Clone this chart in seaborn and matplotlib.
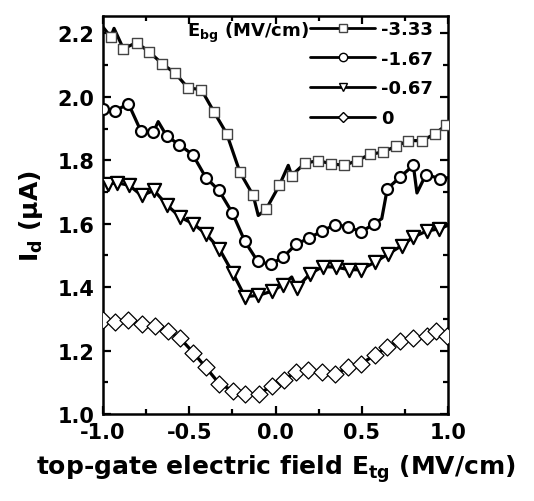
import matplotlib
matplotlib.use("Agg")
import matplotlib.pyplot as plt
import matplotlib.lines as mlines
import seaborn as sns
import pandas as pd

# E_bg = -3.33 MV/cm (squares)
sq_x = [-0.955, -0.882, -0.805, -0.732, -0.658, -0.581, -0.507, -0.430, -0.357, -0.283,
        -0.206, -0.129, -0.055, 0.022, 0.094, 0.171, 0.248, 0.322, 0.399, 0.472,
        0.550, 0.623, 0.697, 0.770, 0.848, 0.925, 0.990]
sq_y = [2.189, 2.152, 2.171, 2.142, 2.105, 2.074, 2.028, 2.023, 1.953, 1.884,
        1.762, 1.689, 1.645, 1.721, 1.752, 1.791, 1.799, 1.789, 1.784, 1.799,
        1.819, 1.826, 1.844, 1.862, 1.862, 1.883, 1.912]
sq_line_x = [-1.0, -0.936, -0.100, 0.074, 1.0]
sq_line_y = [2.220, 2.216, 1.626, 1.784, 1.920]

# E_bg = -1.67 MV/cm (circles)
ci_x = [-1.0, -0.930, -0.853, -0.781, -0.708, -0.631, -0.558, -0.480, -0.403, -0.328,
        -0.250, -0.177, -0.103, -0.028, 0.045, 0.119, 0.194, 0.271, 0.345, 0.422,
        0.496, 0.573, 0.648, 0.722, 0.799, 0.872, 0.954]
ci_y = [1.963, 1.955, 1.979, 1.893, 1.889, 1.877, 1.849, 1.818, 1.745, 1.705,
        1.634, 1.544, 1.481, 1.472, 1.495, 1.535, 1.555, 1.577, 1.597, 1.590,
        1.574, 1.600, 1.710, 1.747, 1.784, 1.755, 1.742]
ci_line_x = [-0.680, 0.616, 0.820, 1.0]
ci_line_y = [1.922, 1.616, 1.697, 1.745]

# E_bg = -0.67 MV/cm (triangles)
tr_x = [-0.969, -0.917, -0.848, -0.776, -0.704, -0.627, -0.554, -0.477, -0.403, -0.326,
        -0.248, -0.177, -0.100, -0.022, 0.045, 0.123, 0.200, 0.274, 0.351, 0.428,
        0.494, 0.577, 0.654, 0.732, 0.799, 0.877, 0.950]
tr_y = [1.726, 1.729, 1.721, 1.689, 1.705, 1.658, 1.621, 1.600, 1.568, 1.521,
        1.445, 1.370, 1.374, 1.387, 1.408, 1.398, 1.442, 1.465, 1.463, 1.455,
        1.455, 1.479, 1.505, 1.531, 1.558, 1.577, 1.584]
tr_line_x = [-1.0, 0.094, 1.0]
tr_line_y = [1.735, 1.432, 1.595]

# E_bg = 0 MV/cm (diamonds)
di_x = [-1.0, -0.930, -0.853, -0.775, -0.698, -0.626, -0.553, -0.476, -0.404, -0.325,
        -0.248, -0.177, -0.096, -0.022, 0.049, 0.119, 0.190, 0.268, 0.345, 0.422,
        0.494, 0.577, 0.648, 0.722, 0.799, 0.877, 0.930, 0.994]
di_y = [1.295, 1.291, 1.295, 1.284, 1.277, 1.261, 1.239, 1.193, 1.147, 1.095,
        1.074, 1.063, 1.063, 1.089, 1.108, 1.133, 1.138, 1.134, 1.126, 1.147,
        1.158, 1.186, 1.211, 1.231, 1.239, 1.245, 1.263, 1.245]
di_line_x = [1.0]
di_line_y = [1.250]

labels = ["-3.33", "-1.67", "-0.67", "0"]

sns.set_theme(style="ticks")
plt.rcParams["font.family"] = ["DejaVu Sans"]
plt.rcParams["font.weight"] = "bold"
plt.rcParams["mathtext.fontset"] = "dejavusans"
plt.rcParams["mathtext.default"] = "bf"
plt.rcParams["text.color"] = "black"
plt.rcParams["axes.labelcolor"] = "black"
plt.rcParams["xtick.color"] = "black"
plt.rcParams["ytick.color"] = "black"

fig = plt.figure(figsize=(5.34, 5.02), dpi=100)
ax = fig.add_axes([103 / 534, 87 / 502, 345 / 534, 398 / 502])

series = [
    (sq_x, sq_y, sq_line_x, sq_line_y, "s", 58, "#444444", 1.0),
    (ci_x, ci_y, ci_line_x, ci_line_y, "o", 62, "black", 1.6),
    (tr_x, tr_y, tr_line_x, tr_line_y, "v", 90, "black", 1.6),
    (di_x, di_y, di_line_x, di_line_y, "D", 75, "black", 0.9),
]

handles = []
for (mx, my, lx, ly, mk, size, ec, ew), lab in zip(series, labels):
    line_df = pd.DataFrame({"x": mx + lx, "y": my + ly}).sort_values("x")
    sns.lineplot(data=line_df, x="x", y="y", color="black", lw=2.3,
                 estimator=None, sort=True, ax=ax, zorder=2)
    sns.scatterplot(x=mx, y=my, marker=mk, s=size, color="white",
                    edgecolor=ec, linewidth=ew, ax=ax, zorder=3)
    handles.append(mlines.Line2D([], [], color="black", lw=2, marker=mk,
                                 markersize=6 if mk != "D" else 5.5,
                                 mfc="white", mec=ec, mew=1.0))

ax.set_xlim(-1.0, 1.0)
ax.set_ylim(1.0, 2.255)
ax.set_xticks([-1.0, -0.5, 0.0, 0.5, 1.0])
ax.set_xticks([-0.75, -0.25, 0.25, 0.75], minor=True)
ax.set_yticks([1.0, 1.2, 1.4, 1.6, 1.8, 2.0, 2.2])
ax.set_yticks([1.1, 1.3, 1.5, 1.7, 1.9, 2.1], minor=True)
ax.xaxis.set_major_formatter(matplotlib.ticker.FormatStrFormatter("%.1f"))
ax.yaxis.set_major_formatter(matplotlib.ticker.FormatStrFormatter("%.1f"))
ax.tick_params(which="both", direction="in", top=True, right=True, width=1.6,
               labelsize=15, pad=6, colors="black")
ax.tick_params(which="major", length=6)
ax.tick_params(which="minor", length=3.5)
for t in ax.get_xticklabels() + ax.get_yticklabels():
    t.set_fontweight("bold")
for sp in ax.spines.values():
    sp.set_linewidth(1.8)
    sp.set_color("black")

ax.set_xlabel("top-gate electric field E$_{tg}$ (MV/cm)", fontsize=18,
              fontweight="bold", labelpad=7, color="black")
ax.set_ylabel("I$_{d}$ (\u03bcA)", fontsize=18, fontweight="bold", labelpad=9,
              color="black")

leg = ax.legend(handles, labels, loc="upper left", bbox_to_anchor=(0.60, 0.99),
                frameon=False, handlelength=3.6, handletextpad=0.35,
                labelspacing=0.65, borderaxespad=0, borderpad=0,
                prop={"weight": "bold", "size": 13})
for t in leg.get_texts():
    t.set_color("black")
ax.text(0.243, 0.95, "E$_{bg}$ (MV/cm)", transform=ax.transAxes,
        fontsize=13, fontweight="bold", va="baseline", ha="left", color="black")

fig.savefig("out.png", dpi=100)
